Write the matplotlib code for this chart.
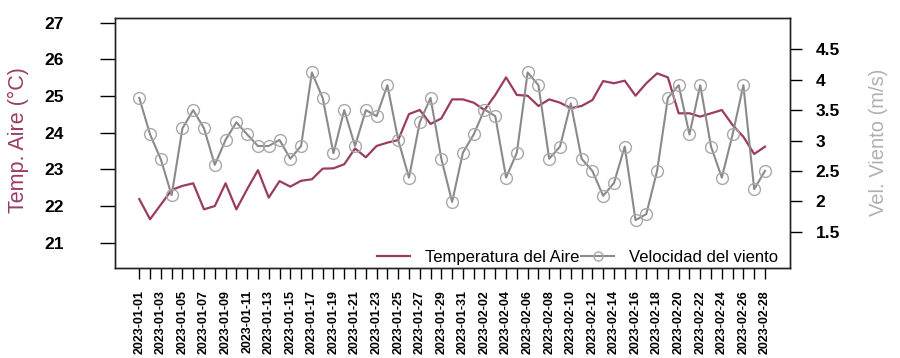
import matplotlib
matplotlib.use("Agg")
import matplotlib.pyplot as plt
import numpy as np
import pandas as pd

dates = pd.date_range("2023-01-01", "2023-02-28", freq="D").strftime("%Y-%m-%d").tolist()

temp_aire = [22.19, 21.64, 22.04, 22.44, 22.55, 22.62, 21.91, 22.00, 22.62, 21.91,
             22.46, 22.98, 22.23, 22.68, 22.53, 22.69, 22.73, 23.02, 23.03, 23.14,
             23.57, 23.33, 23.64, 23.73, 23.80, 24.51, 24.62, 24.24, 24.39, 24.91,
             24.91, 24.82, 24.62, 25.03, 25.51, 25.03, 25.01, 24.73, 24.91, 24.82,
             24.67, 24.73, 24.89, 25.41, 25.35, 25.42, 25.01, 25.35, 25.62, 25.51,
             24.53, 24.53, 24.44, 24.53, 24.62, 24.21, 23.89, 23.42, 23.62]

vel_viento = [3.70, 3.10, 2.69, 2.10, 3.20, 3.50, 3.20, 2.60, 3.01, 3.30,
              3.10, 2.91, 2.91, 3.01, 2.70, 2.91, 4.12, 3.70, 2.79, 3.50,
              2.91, 3.50, 3.40, 3.91, 3.01, 2.39, 3.30, 3.70, 2.70, 1.99,
              2.80, 3.10, 3.51, 3.40, 2.39, 2.80, 4.12, 3.91, 2.70, 2.90,
              3.61, 2.70, 2.50, 2.09, 2.30, 2.90, 1.69, 1.79, 2.50, 3.70,
              3.91, 3.10, 3.91, 2.90, 2.39, 3.10, 3.91, 2.20, 2.50]

temp_ticks = [21, 22, 23, 24, 25, 26, 27]
wind_ticks = [1.5, 2, 2.5, 3, 3.5, 4, 4.5]
wind_tick_labels = ["1.5", "2", "2.5", "3", "3.5", "4", "4.5"]

TEMP_COLOR = "#9B3B63"
WIND_LINE = "#8a8a8a"
WIND_MARK = "#a8a8a8"

plt.rcParams["font.family"] = ["Liberation Sans", "DejaVu Sans"]

fig = plt.figure(figsize=(9, 3.58), dpi=100)
ax = fig.add_axes([115 / 900, 1 - 268 / 358, 675 / 900, 250 / 358])
ax2 = ax.twinx()

x = np.arange(len(dates))
l1, = ax.plot(x, temp_aire, color=TEMP_COLOR, lw=1.6, label="Temperatura del Aire", zorder=3)
l2, = ax2.plot(x, vel_viento, color=WIND_LINE, lw=1.5, marker="o", markersize=8.5,
               markerfacecolor="none", markeredgecolor=WIND_MARK, markeredgewidth=1.0,
               label="Velocidad del viento")

ax.set_xlim(-2.25, 60.32)
ax.set_ylim(20.31, 27.13)
ax2.set_ylim(0.903, 5.015)

ax.set_xticks(x)
ax.set_xticklabels([d if i % 2 == 0 else "" for i, d in enumerate(dates)],
                   rotation=90, fontsize=9, fontweight="bold", va="top")
ax.set_yticks(temp_ticks)
ax.set_yticklabels([str(t) for t in temp_ticks], fontsize=12.5, fontweight="bold")
ax2.set_yticks(wind_ticks)
ax2.set_yticklabels(wind_tick_labels, fontsize=12.5, fontweight="bold")

ax.tick_params(axis="x", length=8, width=1, pad=8, direction="out")
ax.tick_params(axis="y", length=10.8, width=1, pad=26, direction="out")
ax2.tick_params(axis="y", length=8.6, width=1, pad=10, direction="out")

for a in (ax, ax2):
    for s in a.spines.values():
        s.set_linewidth(1.0)
        s.set_color("#222222")

fig.text(18 / 900, 1 - 140 / 358, "Temp. Aire (°C)", rotation=90, color=TEMP_COLOR,
         fontsize=15.5, ha="center", va="center")
fig.text(878 / 900, 1 - 142 / 358, "Vel. Viento (m/s)", rotation=90, color="#b0b0b0",
         fontsize=14.5, ha="center", va="center")

leg = ax.legend(handles=[l1, l2], loc="lower right", bbox_to_anchor=(1.0, -0.035),
                ncol=2, frameon=False, fontsize=12, handlelength=2.0,
                handletextpad=0.9, columnspacing=0.1, borderaxespad=0.3)
leg.legend_handles[1].set_markersize(6.5)

fig.savefig("out.png", dpi=100)
